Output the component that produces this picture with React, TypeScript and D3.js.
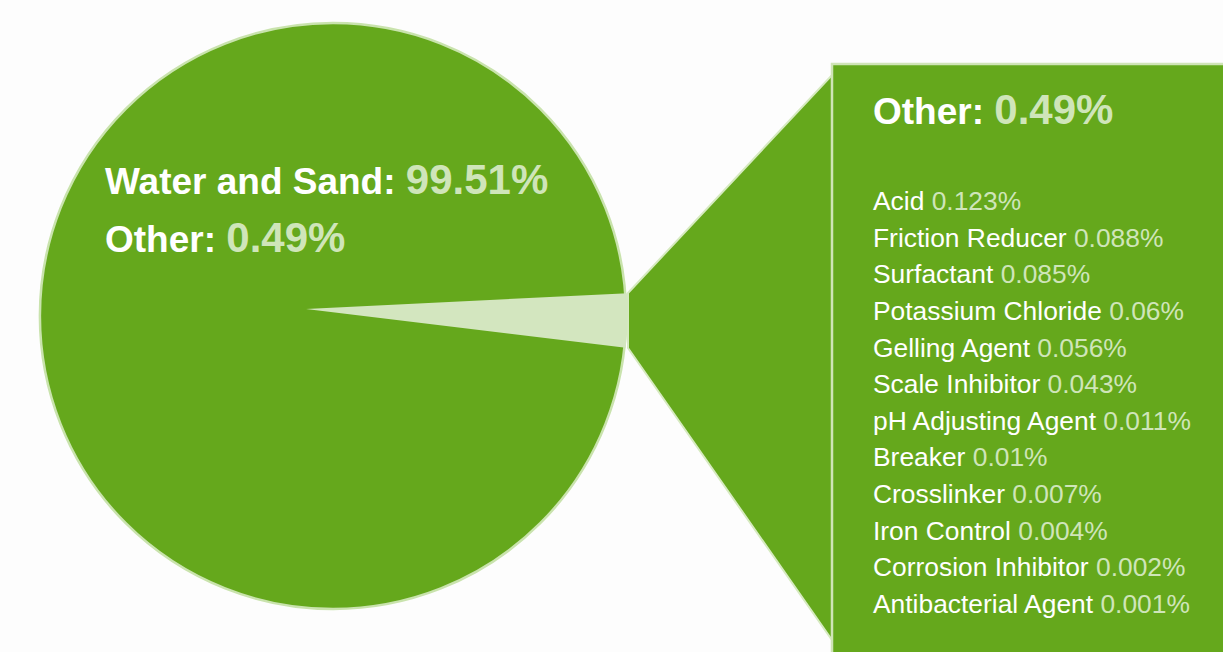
import React, { useEffect, useRef } from 'react';
import * as d3 from 'd3';

const mainLabels = ['Water and Sand', 'Other'];
const mainValues = [99.51, 0.49];

const additiveNames = [
  'Acid', 'Friction Reducer', 'Surfactant', 'Potassium Chloride', 'Gelling Agent',
  'Scale Inhibitor', 'pH Adjusting Agent', 'Breaker', 'Crosslinker', 'Iron Control',
  'Corrosion Inhibitor', 'Antibacterial Agent',
];
const additiveValues = [0.123, 0.088, 0.085, 0.06, 0.056, 0.043, 0.011, 0.01, 0.007, 0.004, 0.002, 0.001];

const W = 1223;
const H = 652;
const GREEN = '#65a81c';
const LIGHT = '#d3e6bf';
const VALUE = '#cfe5b9';
const FONT = '"Liberation Sans", Arial, sans-serif';

export default function App() {
  const svgRef = useRef<SVGSVGElement>(null);

  useEffect(() => {
    document.body.style.margin = '0';
    if (!svgRef.current) return;
    const svg = d3.select(svgRef.current);
    svg.selectAll('*').remove();

    svg.append('rect').attr('width', W).attr('height', H).attr('fill', '#fdfdfd');

    const cx = 333, cy = 316, r = 293;

    // main pie (the "Other" slice is exploded into a wide wedge for readability)
    const pie = d3.pie<number>().sort(null)(mainValues);
    const full = d3.arc<any>().innerRadius(0).outerRadius(r);
    svg.append('path')
      .attr('transform', `translate(${cx},${cy})`)
      .attr('d', full({ startAngle: 0, endAngle: 2 * Math.PI }))
      .attr('fill', GREEN)
      .attr('stroke', '#c9e3ad')
      .attr('stroke-width', 2.5);

    // callout trapezoid + box
    const bx = 832, by = 64;
    svg.append('path')
      .attr('d', `M628,293 L${bx},75 L${bx},640 L628,348 Z`)
      .attr('fill', GREEN)
      .attr('stroke', '#d6eac0')
      .attr('stroke-width', 2);
    svg.append('rect')
      .attr('x', bx).attr('y', by).attr('width', W - bx + 4).attr('height', H - by + 4)
      .attr('fill', GREEN)
      .attr('stroke', '#cfe4b6')
      .attr('stroke-width', 2.5);

    // wedge for "Other"
    const apex: [number, number] = [306, 309];
    const wedgeArc = d3.arc<any>().innerRadius(0).outerRadius(322);
    const otherSlice = pie[1];
    const mid = Math.PI / 2 + 0.036; // pointing right, slightly down
    const spread = 0.085 + (otherSlice.endAngle - otherSlice.startAngle) * 0;
    svg.append('path')
      .attr('transform', `translate(${apex[0]},${apex[1]})`)
      .attr('d', wedgeArc({ startAngle: mid - spread, endAngle: mid + spread }))
      .attr('fill', LIGHT);

    // pie labels
    const pieLab = svg.append('g').attr('font-family', FONT).attr('font-weight', 'bold');
    mainLabels.forEach((lab, i) => {
      const t = pieLab.append('text')
        .attr('x', 105)
        .attr('y', 194 + i * 58);
      t.append('tspan').attr('fill', '#ffffff').attr('font-size', 37).text(`${lab}: `);
      t.append('tspan').attr('fill', VALUE).attr('font-size', 42).text(`${mainValues[i]}%`);
    });

    // box title
    const title = svg.append('text')
      .attr('x', 873).attr('y', 124)
      .attr('font-family', FONT).attr('font-weight', 'bold');
    title.append('tspan').attr('fill', '#ffffff').attr('font-size', 37).text(`${mainLabels[1]}: `);
    title.append('tspan').attr('fill', VALUE).attr('font-size', 42).text(`${mainValues[1]}%`);

    // additive list
    const y = d3.scalePoint<string>().domain(additiveNames).range([210, 613]);
    const rows = svg.append('g').attr('font-family', FONT).attr('font-size', 26.4);
    additiveNames.forEach((name, i) => {
      const t = rows.append('text').attr('x', 873).attr('y', y(name)!);
      t.append('tspan').attr('fill', '#ffffff').text(`${name} `);
      t.append('tspan').attr('fill', VALUE).text(`${additiveValues[i]}%`);
    });
  }, []);

  return <svg ref={svgRef} width={W} height={H} style={{ display: 'block' }} />;
}
